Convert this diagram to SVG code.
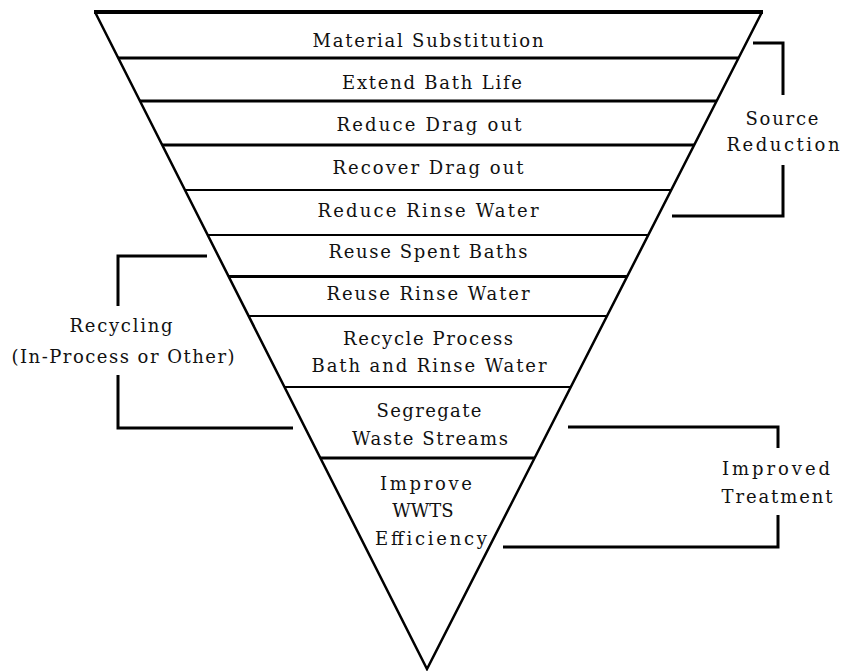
<svg xmlns="http://www.w3.org/2000/svg" width="841" height="671" viewBox="0 0 841 671">
<style>
text{font-family:"DejaVu Serif","Liberation Serif",serif;font-size:18px;fill:#111;text-anchor:middle}
.edge{fill:none;stroke:#000;stroke-width:2.5;stroke-linejoin:miter}
.thick{stroke:#000;stroke-width:3}
.thin{stroke:#000;stroke-width:2}
.br{fill:none;stroke:#000;stroke-width:3}
</style>
<rect width="841" height="671" fill="#fff"/>
<g id="pyramid">
<path class="edge" d="M95,12 L427,669 L762,12"/>
<line x1="94" y1="12" x2="763" y2="12" stroke="#000" stroke-width="4"/>
</g>
<g id="connectors">
<path class="br" d="M753,43 H783 V95 M783,165 V216 H672"/>
<path class="br" d="M207,256 H118 V306 M118,375 V428 H293"/>
<path class="br" d="M568,427 H778 V448 M778,515 V547 H503"/>
</g>
<g id="n1"><line class="thick" x1="118" y1="58" x2="739" y2="58"/><text x="428" y="47" textLength="231" lengthAdjust="spacing">Material Substitution</text></g>
<g id="n2"><line class="thick" x1="140" y1="101" x2="717" y2="101"/><text x="432" y="89" textLength="180" lengthAdjust="spacing">Extend Bath Life</text></g>
<g id="n3"><line class="thick" x1="162" y1="145" x2="694" y2="145"/><text x="429" y="131" textLength="185" lengthAdjust="spacing">Reduce Drag out</text></g>
<g id="n4"><line class="thin" x1="185" y1="190" x2="671" y2="190"/><text x="428" y="174" textLength="191" lengthAdjust="spacing">Recover Drag out</text></g>
<g id="n5"><line class="thin" x1="208" y1="235" x2="648" y2="235"/><text x="428" y="217" textLength="221" lengthAdjust="spacing">Reduce Rinse Water</text></g>
<g id="n6"><line class="thick" x1="229" y1="276.5" x2="627" y2="276.5"/><text x="428" y="258" textLength="199" lengthAdjust="spacing">Reuse Spent Baths</text></g>
<g id="n7"><line class="thin" x1="249" y1="316" x2="607" y2="316"/><text x="428" y="300" textLength="203" lengthAdjust="spacing">Reuse Rinse Water</text></g>
<g id="n8"><line class="thin" x1="284" y1="387" x2="571" y2="387"/><text x="428" y="345" textLength="170" lengthAdjust="spacing">Recycle Process</text><text x="429" y="372" textLength="235" lengthAdjust="spacing">Bath and Rinse Water</text></g>
<g id="n9"><line class="thick" x1="320" y1="458" x2="535" y2="458"/><text x="429" y="417" textLength="105" lengthAdjust="spacing">Segregate</text><text x="430" y="445" textLength="156" lengthAdjust="spacing">Waste Streams</text></g>
<g id="n10"><text x="426" y="490" textLength="92" lengthAdjust="spacing">Improve</text><text x="423" y="517">WWTS</text><text x="431" y="545" textLength="112" lengthAdjust="spacing">Efficiency</text></g>
<g id="source"><text x="782" y="125" textLength="73" lengthAdjust="spacing">Source</text><text x="783" y="151" textLength="113" lengthAdjust="spacing">Reduction</text></g>
<g id="recycling"><text x="121" y="332" textLength="103" lengthAdjust="spacing">Recycling</text><text x="123" y="363" textLength="223" lengthAdjust="spacing">(In-Process or Other)</text></g>
<g id="treatment"><text x="776" y="475" textLength="108" lengthAdjust="spacing">Improved</text><text x="777" y="503" textLength="111" lengthAdjust="spacing">Treatment</text></g>
</svg>
